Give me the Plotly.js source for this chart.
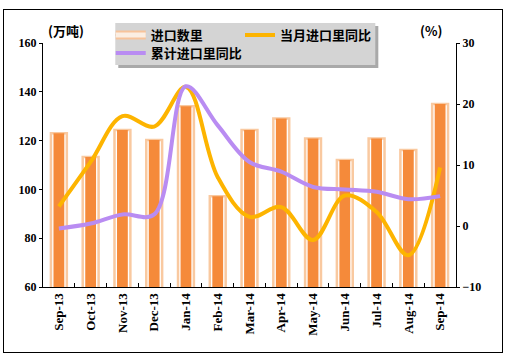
<!DOCTYPE html>
<html><head><meta charset="utf-8">
<script src="https://cdn.plot.ly/plotly-3.0.1.min.js"></script>
<style>
html,body{margin:0;padding:0;background:#fff;}
#wrap{position:relative;width:505px;height:360px;}
#frame{position:absolute;left:3px;top:9px;width:498px;height:342px;border:1px solid #000;pointer-events:none;}
#chart{position:absolute;left:0;top:0;width:505px;height:360px;}
</style></head>
<body><div id="wrap"><div id="chart"></div><div id="frame"></div></div>
<script>
const categories = ["Sep-13","Oct-13","Nov-13","Dec-13","Jan-14","Feb-14","Mar-14","Apr-14","May-14","Jun-14","Jul-14","Aug-14","Sep-14"];
const importVolume = [123, 113.3, 124.3, 120.2, 134.1, 97.2, 124.3, 129.1, 120.9, 112.0, 120.9, 116.1, 135.0];
const monthlyYoY = [3.2, 10.5, 18.0, 16.3, 22.8, 8.0, 1.5, 3.1, -2.3, 5.0, 2.3, -4.8, 9.6];
const cumulativeYoY = [-0.4, 0.4, 1.9, 1.9, 22.9, 16.5, 10.5, 8.9, 6.4, 6.0, 5.6, 4.4, 4.9];
const leftTicks = [60, 80, 100, 120, 140, 160];
const rightTicks = [-10, 0, 10, 20, 30];
const seriesNames = ["进口数里", "当月进口里同比", "累计进口里同比"];

const tickFont = {family: "Liberation Serif", size: 12, color: "#000", weight: "bold"};
const xTickFont = {family: "Liberation Serif", size: 13, color: "#000", weight: "bold"};
const cjkFont = {family: "Noto Sans CJK SC", size: 13, color: "#000", weight: "bold"};
const clearFont = {family: "Noto Sans CJK SC", size: 13, color: "rgba(0,0,0,0)", weight: "bold"};

const traces = [
  {type: "bar", x: categories, y: importVolume, name: seriesNames[0], width: 0.5,
   marker: {color: "#ffffff", line: {color: "#f9c9a0", width: 2.5}}, showlegend: false, hoverinfo: "none"},
  {type: "bar", x: categories, y: importVolume, name: seriesNames[0], width: 0.34,
   marker: {color: "#f58a3a", line: {width: 0}}, showlegend: false, hoverinfo: "none"},
  {type: "scatter", mode: "lines", x: categories, y: monthlyYoY, yaxis: "y2", name: seriesNames[1],
   line: {color: "#fdb400", width: 4, shape: "spline", smoothing: 1}, legend: "legend2"},
  {type: "scatter", mode: "lines", x: categories, y: cumulativeYoY, yaxis: "y2", name: seriesNames[2],
   line: {color: "#b98cf2", width: 4, shape: "spline", smoothing: 1}, legend: "legend3"},
  // legend sample for the bar series (layered lines to mimic the framed bar swatch)
  {type: "scatter", mode: "lines", x: [null], y: [null], name: seriesNames[0], legend: "legend4",
   line: {color: "#f7c39a", width: 9}, hoverinfo: "none"},
  {type: "scatter", mode: "lines", x: [null], y: [null], name: seriesNames[0], legend: "legend5",
   line: {color: "#fbeee2", width: 5}, hoverinfo: "none"},
  {type: "scatter", mode: "lines", x: [null], y: [null], name: seriesNames[0], legend: "legend",
   line: {color: "#d69a68", width: 1.5}, hoverinfo: "none"}
];

function leg(x, y, font) {
  return {orientation: "h", x: x, xanchor: "left", y: y, yanchor: "top", bgcolor: "rgba(0,0,0,0)",
          borderwidth: 0, font: font, itemwidth: 30};
}

const layout = {
  width: 505, height: 360,
  margin: {l: 43, r: 49, t: 43, b: 73},
  paper_bgcolor: "rgba(0,0,0,0)", plot_bgcolor: "rgba(0,0,0,0)",
  barmode: "overlay",
  showlegend: true,
  legend4: leg(0.164, 1.094, clearFont),
  legend5: leg(0.164, 1.094, clearFont),
  legend: leg(0.164, 1.094, cjkFont),
  legend2: leg(0.477, 1.094, cjkFont),
  legend3: leg(0.164, 1.020, cjkFont),
  xaxis: {type: "category", range: [-0.5, 12.5], tickangle: -90, tickfont: xTickFont,
    showline: true, linecolor: "#000", linewidth: 1, ticks: "inside", ticklen: 4, tickcolor: "#000",
    tickson: "boundaries", showgrid: false, zeroline: false, fixedrange: true},
  yaxis: {range: [60, 160], tickvals: leftTicks, tickfont: tickFont, showline: true, linecolor: "#000",
    linewidth: 1, ticks: "outside", ticklen: 3, tickcolor: "#000", showgrid: false, zeroline: false},
  yaxis2: {range: [-10, 30], tickvals: rightTicks, ticktext: rightTicks.map(v => v < 0 ? "\u2212" + Math.abs(v) : String(v)),
    tickfont: tickFont, overlaying: "y", side: "right", showline: true, linecolor: "#000", linewidth: 1,
    ticks: "outside", ticklen: 3, tickcolor: "#000", showgrid: false, zeroline: false},
  annotations: [
    {text: "(万吨)", xref: "paper", yref: "paper", x: 0.056, y: 1.053, xanchor: "center", yanchor: "middle",
     showarrow: false, font: cjkFont},
    {text: "(%)", xref: "paper", yref: "paper", x: 0.94, y: 1.053, xanchor: "center", yanchor: "middle",
     showarrow: false, font: cjkFont}
  ],
  shapes: [
    {type: "rect", xref: "paper", yref: "paper", x0: 0.1823, x1: 0.8119, y0: 0.8971, y1: 1.0693,
     fillcolor: "#8c8c8c", line: {width: 0}, layer: "above", opacity: 0.75},
    {type: "rect", xref: "paper", yref: "paper", x0: 0.175, x1: 0.8046, y0: 0.9094, y1: 1.0816,
     fillcolor: "#d4d4d4", line: {width: 0}, layer: "above"}
  ]
};

Plotly.newPlot("chart", traces, layout, {displayModeBar: false, staticPlot: true});
</script></body></html>
